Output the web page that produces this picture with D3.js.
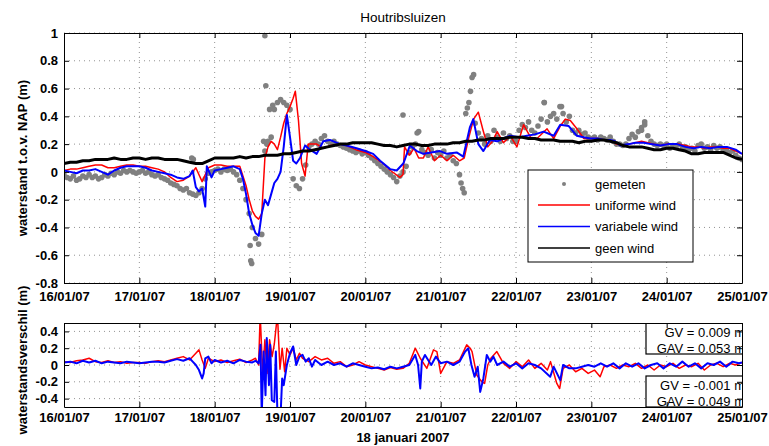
<!DOCTYPE html>
<html>
<head>
<meta charset="utf-8">
<script src="https://cdn.jsdelivr.net/npm/d3@7"></script>
<style>
  body { margin: 0; background: #fff; }
  svg { display: block; font-family: "Liberation Sans", Arial, sans-serif; }
</style>
</head>
<body>
<svg id="chart" width="769" height="446"></svg>
<script>
// tijd in uren sinds 16/01/07 00:00
const dagLabels = ['16/01/07','17/01/07','18/01/07','19/01/07','20/01/07','21/01/07','22/01/07','23/01/07','24/01/07','25/01/07'];
const dagUren = [0, 24, 48, 72, 96, 120, 144, 168, 192, 216];
const yTicksTop = [-0.8, -0.6, -0.4, -0.2, 0, 0.2, 0.4, 0.6, 0.8, 1];
const yTicksBot = [-0.4, -0.2, 0, 0.2, 0.4];

// gemeten, elk uur (h = 0..216)
const gemeten = [
  -0.02,-0.04,-0.05,-0.03,-0.06,-0.05,-0.03,-0.04,-0.02,-0.04,-0.03,-0.05,-0.04,-0.02,-0.03,-0.01,-0.02,0.0,-0.01,0.01,0.0,0.01,0.0,-0.01,
  0.0,0.01,-0.01,0.0,-0.02,-0.03,-0.02,-0.04,-0.05,-0.06,-0.08,-0.09,-0.1,-0.12,-0.13,-0.12,-0.15,-0.16,-0.17,-0.15,-0.12,-0.05,-0.01,0.0,
  0.01,0.02,0.0,0.02,0.01,0.02,0.0,-0.02,-0.06,-0.12,-0.2,-0.3,-0.4,-0.48,-0.52,-0.45,0.15,0.22,0.25,0.45,0.5,0.52,0.5,0.48,
  0.45,-0.05,-0.1,-0.12,-0.05,0.05,0.18,0.2,0.22,0.2,0.24,0.26,0.22,0.2,0.22,0.2,0.19,0.18,0.17,0.16,0.15,0.14,0.15,0.13,
  0.14,0.12,0.1,0.08,0.06,0.04,0.02,0.0,-0.02,-0.04,-0.07,-0.03,0.0,0.04,0.14,0.18,0.2,0.29,0.16,0.14,0.12,0.16,0.1,0.14,
  0.12,0.15,0.1,0.12,0.08,0.06,-0.02,-0.12,0.42,0.5,0.68,0.35,0.28,0.24,0.2,0.26,0.22,0.3,0.25,0.22,0.28,0.24,0.26,0.22,
  0.22,0.3,0.34,0.32,0.36,0.3,0.28,0.33,0.38,0.5,0.36,0.4,0.42,0.38,0.47,0.42,0.36,0.4,0.3,0.28,0.3,0.27,0.28,0.25,
  0.24,0.25,0.23,0.25,0.24,0.23,0.25,0.22,0.2,0.2,0.19,0.2,0.24,0.27,0.25,0.29,0.3,0.34,0.26,0.22,0.2,0.19,0.2,0.19,
  0.2,0.17,0.19,0.18,0.2,0.17,0.18,0.16,0.17,0.15,0.19,0.2,0.17,0.18,0.16,0.19,0.17,0.18,0.15,0.16,0.14,0.15,0.12,0.1,0.09
];
// losse metingen (uitschieters) [uur, waarde]
const gemetenExtra = [
  [40.7,0.1],[41.2,0.09],[59.3,-0.53],[59.5,-0.64],[59.8,-0.66],[64,0.98],[64.3,0.62],[63.6,0.22],
  [64.6,0.2],[65.5,0.45],[66.5,0.48],[126.5,-0.08],[127.5,-0.15],[128.5,0.46],[129.5,0.58],[130.5,0.7],
  [108,0.41],[112.5,0.28],[153,0.5],[158.5,0.47],[185,0.36],[184,0.32]
];

// uniforme wind [uur, waterstand]
const uniformeWind = [
  [0,0.01],[2,0.02],[4,0.02],[6,0.03],[8,0.04],[10,0.05],[12,0.05],[14,0.03],[16,0.03],[18,0.04],[20,0.05],[22,0.05],
  [24,0.04],[26,0.04],[28,0.03],[30,0.02],[32,0.0],[34,-0.04],[36,-0.07],[38,-0.06],[40,-0.03],[42,0.03],[44,-0.07],[46,0.03],
  [48,0.05],[50,0.05],[52,0.04],[54,0.04],[56,0.04],[57,-0.03],[58,-0.1],[59,-0.2],[60,-0.28],[61,-0.32],[62,-0.34],[63,-0.3],
  [64,0.1],[65,0.18],[66,0.22],[67,0.2],[68,0.16],[69,0.25],[70,0.35],[71,0.42],[72,0.47],
  [73,0.53],[73.7,0.58],[74.7,0.37],[75.7,0.06],[76.8,-0.03],[77.8,0.2],[80.5,0.2],[82.6,0.17],[85,0.19],[88,0.2],[90,0.19],
  [93,0.16],[96,0.14],[98.5,0.11],[101.7,0.06],[104,0.01],[107,-0.04],[108,-0.02],[108.5,0.18],[110,0.12],[111.5,0.17],
  [113,0.1],[114.5,0.1],[116,0.18],[118,0.08],[120,0.12],[122,0.08],[124,0.12],[126,0.08],[127.5,0.1],[129,0.25],[130.5,0.38],
  [132,0.43],[133.5,0.3],[135,0.18],[136.5,0.22],[138,0.29],[140,0.21],[142.2,0.26],[144.3,0.18],[146.4,0.34],[148.6,0.25],
  [150.7,0.24],[153.9,0.31],[156,0.24],[158.1,0.33],[159.7,0.38],[161.3,0.37],[163.4,0.31],[165.6,0.24],[168,0.24],[170,0.24],
  [172,0.23],[174,0.23],[176,0.2],[178,0.19],[180,0.2],[182,0.21],[184,0.22],[186,0.21],[188,0.2],[190,0.19],[192,0.2],
  [194,0.2],[196,0.2],[198,0.19],[200,0.18],[202,0.18],[204,0.17],[206,0.18],[208,0.18],[210,0.17],[212,0.17],[214,0.15],[216,0.13]
];

// variabele wind [uur, waterstand]
const variabeleWind = [
  [0,0.01],[2,0.0],[4,-0.01],[6,0.01],[8,0.01],[10,0.02],[12,0.0],[14,-0.02],[16,0.01],[18,0.03],[20,0.04],[22,0.04],
  [24,0.04],[26,0.03],[28,0.01],[30,0.0],[32,-0.01],[34,-0.02],[36,-0.04],[38,-0.05],[40,-0.03],[41,0.01],[42,-0.11],
  [43,-0.14],[44,-0.12],[45,-0.25],[45.5,0.04],[47,-0.04],
  [48,0.01],[50,0.02],[52,0.03],[54,0.04],[56,0.02],[57,-0.05],[58,-0.16],[59,-0.3],[60,-0.38],[61,-0.44],[62,-0.46],
  [63,-0.3],[64,-0.2],[65,-0.24],[66,-0.16],[67,-0.08],[68,-0.05],[69,0.0],[70,0.18],[71,0.41],[72,0.25],[73,0.08],
  [74,0.06],[75.2,0.1],[76.8,0.19],[78.4,0.16],[80.5,0.13],[82.6,0.22],[84.7,0.23],[87.9,0.2],[90,0.19],[93.2,0.17],
  [96,0.15],[98.5,0.13],[100.7,0.08],[103.9,0.02],[106,0.01],[108.1,0.06],[110.2,0.19],[112.4,0.15],[114.5,0.13],
  [117,0.14],[119.8,0.15],[122,0.13],[125.1,0.14],[127.2,0.11],[129.3,0.32],[130.4,0.38],[132,0.2],[133.6,0.15],
  [135.7,0.23],[138,0.22],[141,0.25],[142.2,0.26],[145,0.25],[147.5,0.26],[150,0.27],[152.8,0.29],[156,0.26],[158.1,0.34],
  [160.8,0.33],[163.4,0.26],[165.5,0.25],[167.7,0.24],[170,0.24],[172,0.23],[174,0.23],[175.5,0.22],[177.2,0.19],[180,0.2],
  [182,0.21],[184.7,0.21],[187,0.2],[190,0.19],[192.5,0.2],[195.3,0.2],[198,0.18],[200.6,0.17],[203,0.18],[205.9,0.17],
  [208.5,0.18],[211.2,0.18],[214,0.16],[216,0.13]
];

// geen wind, elke 2 uur (h = 0, 2, ..., 216)
const geenWind = [
  0.06,0.07,0.07,0.08,0.08,0.09,0.09,0.09,0.10,0.09,0.09,0.10,
  0.10,0.09,0.10,0.10,0.09,0.09,0.09,0.08,0.07,0.06,0.06,0.08,
  0.10,0.10,0.10,0.10,0.11,0.10,0.11,0.11,0.12,0.12,0.12,0.13,
  0.13,0.14,0.15,0.15,0.16,0.17,0.18,0.19,0.2,0.2,0.21,0.21,
  0.21,0.21,0.2,0.19,0.19,0.18,0.19,0.2,0.2,0.19,0.19,0.2,
  0.2,0.2,0.21,0.21,0.22,0.22,0.23,0.23,0.24,0.24,0.24,0.25,
  0.25,0.25,0.24,0.24,0.23,0.23,0.23,0.22,0.22,0.22,0.21,0.22,
  0.22,0.23,0.23,0.22,0.21,0.19,0.18,0.18,0.18,0.17,0.16,0.16,
  0.17,0.17,0.16,0.15,0.13,0.13,0.14,0.14,0.14,0.14,0.12,0.10,
  0.09
];

// waterstandsverschil uniforme wind [uur, verschil]
const verschilUniform = [
  [0,0.04],[2,0.03],[4,0.05],[6,0.06],[8,0.08],[10,0.04],[12,0.03],[14,0.05],[16,0.03],[18,0.04],[20,0.02],[22,0.03],
  [24,0.03],[26,0.02],[28,0.04],[30,0.05],[32,0.04],[34,0.06],[36,0.08],[38,0.1],[40,0.06],[42,0.14],[43,0.18],[44,0.06],
  [45,-0.04],[46,0.08],[48,0.04],[50,0.06],[52,0.03],[54,0.05],[56,0.07],[58,0.03],[60,0.06],[61,0.08],[62,0.0],[62.5,0.6],
  [63.3,-0.1],[64,0.3],[64.7,-0.1],[65.5,0.3],[66.3,0.1],[67,0.25],[68,0.6],[68.8,-0.05],[69.5,0.2],[70.3,-0.08],[71,0.2],
  [72,0.12],[73,0.2],[74,0.06],[75,0.14],[76,0.08],[78,0.04],[80,0.1],[82,0.06],[84,0.08],[86,0.02],[88,0.04],[90,-0.02],
  [92,0.0],[94,0.04],[96,0.0],[98,-0.02],[100,-0.04],[102,-0.06],[104,-0.03],[106,-0.05],[108,-0.04],[110,0.02],[111.9,0.2],
  [113.5,0.08],[115.6,-0.04],[117.7,0.18],[118.8,0.16],[120,-0.1],[122,0.04],[124,0.02],[126,0.06],[128.3,0.24],[129.4,0.2],
  [130,0.16],[131.5,-0.12],[133.1,-0.2],[134,-0.22],[135,0.0],[136,0.08],[137.9,0.16],[140,0.02],[142,-0.04],[144,0.04],
  [146,-0.02],[148,0.06],[150,-0.04],[152,0.02],[154,-0.06],[155,0.04],[157,-0.22],[157.9,-0.28],[159,-0.04],[161,0.0],
  [163,-0.08],[165,-0.04],[167,-0.1],[169,-0.06],[170.8,-0.14],[172,-0.02],[174,0.0],[176,-0.04],[178,0.0],[180,-0.02],
  [182,0.02],[184,-0.04],[186,0.0],[188,-0.06],[190,0.0],[192,-0.02],[194,0.02],[196,-0.04],[198,0.0],[200,-0.02],
  [202,0.02],[204,-0.06],[206,0.0],[208,0.02],[210,-0.02],[212,0.02],[214,0.0],[216,0.03]
];

// waterstandsverschil variabele wind [uur, verschil]
const verschilVariabel = [
  [0,0.03],[2,0.04],[4,0.02],[6,0.05],[8,0.03],[10,0.05],[12,0.02],[14,0.04],[16,0.03],[18,0.02],[20,0.04],[22,0.03],
  [24,0.02],[26,0.03],[28,0.04],[30,0.04],[32,0.03],[34,0.05],[36,0.07],[38,0.05],[40,0.08],[41,0.04],[42,0.0],[43,-0.06],
  [44,-0.16],[44.5,-0.1],[45,0.08],[46,0.1],[47,0.02],[48,0.06],[50,0.03],[52,0.05],[54,0.02],[56,0.06],[58,0.04],[60,0.03],
  [61,0.05],[62,0.02],[62.6,0.24],[63,-0.6],[63.6,0.16],[64.2,-0.36],[64.6,0.32],[65.3,-0.24],[65.7,0.24],[66.2,-0.42],
  [67,-0.44],[67.5,0.16],[68,-0.6],[69,-0.6],[69.5,-0.16],[70,-0.24],[71,0.0],[72,0.14],[73,0.22],[74,0.0],[75,0.1],
  [76,0.12],[77,0.04],[78,0.08],[79,-0.02],[80,0.06],[82,0.0],[84,0.04],[86,0.0],[88,0.02],[90,-0.02],[92,0.02],[94,0.0],
  [96,-0.02],[98,-0.04],[100,-0.03],[102,-0.05],[104,-0.02],[106,-0.04],[108,-0.02],[110,0.0],[111.9,0.12],[112.8,0.0],
  [113.5,-0.28],[114,0.04],[115,0.12],[117,0.0],[118.5,0.1],[120,0.02],[122,0.04],[124,0.0],[126,0.04],[127.8,0.16],
  [128.8,0.2],[129.8,0.0],[130.8,-0.14],[131.8,-0.02],[132.6,-0.32],[133.6,-0.16],[134.7,0.12],[135.8,0.04],[136.8,0.1],
  [138,0.0],[140,0.04],[142,-0.02],[144,0.02],[146,-0.04],[148,0.02],[150,0.0],[152,-0.04],[154.9,-0.14],[156,-0.02],
  [158.1,-0.18],[159,0.0],[161,-0.04],[163,-0.04],[165,-0.02],[167,0.0],[169,-0.02],[171,0.02],[173,-0.02],[175,0.02],
  [177,-0.04],[179,0.02],[181,-0.02],[183,0.02],[185,-0.04],[187,0.0],[189,0.02],[191,-0.04],[193,0.02],[195,-0.02],
  [197,0.04],[199,-0.02],[201,0.02],[203,-0.04],[205,0.02],[207,0.0],[209,0.04],[211,-0.02],[213,0.04],[215,0.02],[216,0.03]
];

const legendItems = ['gemeten', 'uniforme wind', 'variabele wind', 'geen wind'];
const statsUniform = ['GV = 0.009 m', 'GAV = 0.053 m'];
const statsVariabel = ['GV = -0.001 m', 'GAV = 0.049 m'];

const svg = d3.select('#chart');
const FONT = '"Liberation Sans", Arial, sans-serif';

const x = d3.scaleLinear().domain([0, 216]).range([64, 742]);
const yTop = d3.scaleLinear().domain([-0.8, 1]).range([283, 33]);
const yBot = d3.scaleLinear().domain([-0.5, 0.5]).range([407, 323]);

const fmt = d => d === 0 ? '0' : String(+d.toFixed(1));

function clip(id, y) {
  svg.append('clipPath').attr('id', id)
    .append('rect')
    .attr('x', x.range()[0]).attr('y', y.range()[1])
    .attr('width', x.range()[1] - x.range()[0])
    .attr('height', y.range()[0] - y.range()[1]);
}
clip('clipTop', yTop);
clip('clipBot', yBot);

function grid(y, ticks) {
  const g = svg.append('g').attr('stroke', '#777').attr('stroke-width', 0.8).attr('stroke-dasharray', '1,4');
  g.selectAll('.gx').data(dagUren.slice(1, -1)).join('line')
    .attr('x1', d => x(d)).attr('x2', d => x(d))
    .attr('y1', y.range()[0]).attr('y2', y.range()[1]);
  g.selectAll('.gy').data(ticks).join('line')
    .attr('y1', d => y(d)).attr('y2', d => y(d))
    .attr('x1', x.range()[0]).attr('x2', x.range()[1]);
}

function axes(y, ticks, padBottom) {
  const style = g => {
    g.attr('font-family', FONT).attr('font-size', 13).attr('font-weight', 'bold');
    g.selectAll('path,line').attr('stroke', '#000').attr('stroke-width', 1);
  };
  svg.append('g').attr('transform', `translate(0,${y.range()[0]})`)
    .call(d3.axisBottom(x).tickValues(dagUren).tickFormat((d, i) => dagLabels[i])
      .tickSizeInner(-5).tickSizeOuter(0).tickPadding(padBottom))
    .call(style);
  svg.append('g').attr('transform', `translate(0,${y.range()[1]})`)
    .call(d3.axisTop(x).tickValues(dagUren).tickFormat('').tickSizeInner(-5).tickSizeOuter(0))
    .call(style);
  svg.append('g').attr('transform', `translate(${x.range()[0]},0)`)
    .call(d3.axisLeft(y).tickValues(ticks).tickFormat(fmt).tickSizeInner(-5).tickSizeOuter(0).tickPadding(6))
    .call(style);
  svg.append('g').attr('transform', `translate(${x.range()[1]},0)`)
    .call(d3.axisRight(y).tickValues(ticks).tickFormat('').tickSizeInner(-5).tickSizeOuter(0))
    .call(style);
}

grid(yTop, yTicksTop);
grid(yBot, yTicksBot);

// bovenste paneel
const topG = svg.append('g').attr('clip-path', 'url(#clipTop)');
const lineTop = d3.line().x(d => x(d[0])).y(d => yTop(d[1]));

const gemetenPts = gemeten.map((v, i) => [i, v]).concat(gemetenExtra);
topG.append('g').attr('fill', '#808080')
  .selectAll('circle').data(gemetenPts).join('circle')
  .attr('cx', d => x(d[0])).attr('cy', d => yTop(d[1])).attr('r', 2.8);

topG.append('path').datum(uniformeWind).attr('d', lineTop)
  .attr('fill', 'none').attr('stroke', '#ff0000').attr('stroke-width', 1.5).attr('stroke-linejoin', 'round');
topG.append('path').datum(variabeleWind).attr('d', lineTop)
  .attr('fill', 'none').attr('stroke', '#0000ff').attr('stroke-width', 2).attr('stroke-linejoin', 'round');
topG.append('path').datum(geenWind.map((v, i) => [i * 2, v])).attr('d', lineTop)
  .attr('fill', 'none').attr('stroke', '#000').attr('stroke-width', 3).attr('stroke-linejoin', 'round');

// onderste paneel
const botG = svg.append('g').attr('clip-path', 'url(#clipBot)');
const lineBot = d3.line().x(d => x(d[0])).y(d => yBot(d[1]));
botG.append('path').datum(verschilUniform).attr('d', lineBot)
  .attr('fill', 'none').attr('stroke', '#ff0000').attr('stroke-width', 1.5).attr('stroke-linejoin', 'round');
botG.append('path').datum(verschilVariabel).attr('d', lineBot)
  .attr('fill', 'none').attr('stroke', '#0000ff').attr('stroke-width', 2).attr('stroke-linejoin', 'round');

// statistiek-kaders
function statBox(lines, y0, baselines) {
  const g = botG.append('g');
  g.append('rect').attr('x', 646).attr('y', y0).attr('width', 100).attr('height', 31)
    .attr('fill', '#fff').attr('stroke', '#000').attr('stroke-width', 1.2);
  g.selectAll('text').data(lines).join('text')
    .attr('x', 745).attr('y', (d, i) => baselines[i])
    .attr('text-anchor', 'end').attr('font-family', FONT).attr('font-size', 13)
    .text(d => d);
}
statBox(statsUniform, 323, [336.5, 352.5]);
statBox(statsVariabel, 376, [390, 405.5]);

axes(yTop, yTicksTop, 9);
axes(yBot, yTicksBot, 6);

// legenda
const lg = svg.append('g').attr('font-family', FONT).attr('font-size', 13);
lg.append('rect').attr('x', 528).attr('y', 170).attr('width', 165).attr('height', 92)
  .attr('fill', '#fff').attr('stroke', '#000').attr('stroke-width', 1);
const legendY = [184, 205, 226.5, 248];
const legendColor = ['#808080', '#ff0000', '#0000ff', '#000'];
legendItems.forEach((name, i) => {
  if (i === 0) {
    lg.append('circle').attr('cx', 564).attr('cy', legendY[i]).attr('r', 2).attr('fill', legendColor[i]);
  } else {
    lg.append('line').attr('x1', 538).attr('x2', 590).attr('y1', legendY[i]).attr('y2', legendY[i])
      .attr('stroke', legendColor[i]).attr('stroke-width', 1.5);
  }
  lg.append('text').attr('x', 595).attr('y', legendY[i] + 4.5).text(name);
});

// titels
svg.append('text').attr('x', 403).attr('y', 22).attr('text-anchor', 'middle')
  .attr('font-family', FONT).attr('font-size', 13.5).text('Houtribsluizen');
svg.append('text').attr('transform', 'translate(27,158) rotate(-90)').attr('text-anchor', 'middle')
  .attr('font-family', FONT).attr('font-size', 13).attr('font-weight', 'bold').text('waterstand t.o.v. NAP (m)');
svg.append('text').attr('transform', 'translate(27,360) rotate(-90)').attr('text-anchor', 'middle')
  .attr('font-family', FONT).attr('font-size', 13).attr('font-weight', 'bold').text('waterstandsverschil (m)');
svg.append('text').attr('x', 403).attr('y', 442).attr('text-anchor', 'middle')
  .attr('font-family', FONT).attr('font-size', 13).attr('font-weight', 'bold').text('18 januari 2007');
</script>
</body>
</html>
